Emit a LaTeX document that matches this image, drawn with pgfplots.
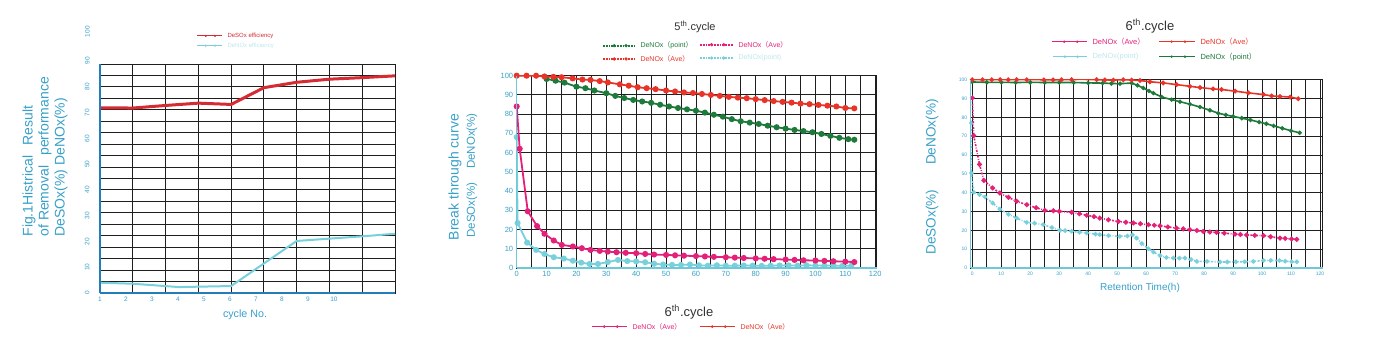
\documentclass[border=0pt]{standalone}
\usepackage{fontspec}
\setmainfont{Liberation Sans}
\newfontfamily\cjk{Noto Sans CJK SC}
\usepackage{pgfplots}
\pgfplotsset{compat=1.18}
\definecolor{tealtxt}{RGB}{56,160,200}
\definecolor{spineblue}{RGB}{35,125,185}
\definecolor{spinelt}{RGB}{110,200,215}
\definecolor{cred}{RGB}{232,52,40}
\definecolor{lred}{RGB}{212,44,50}
\definecolor{cgreen}{RGB}{30,122,58}
\definecolor{cmag}{RGB}{228,32,120}
\definecolor{ccyan}{RGB}{120,208,220}
\definecolor{faint}{RGB}{190,230,236}
\definecolor{gridc}{RGB}{30,30,30}
\definecolor{titc}{RGB}{50,50,50}
\newcommand\fs[1]{\fontsize{#1}{#1}\selectfont}
\newcommand\pl[1]{{\cjk （}#1{\cjk ）}}
\newcommand\legs[6]{%
  \draw[#4,#5] (#1,#3) -- (#2,#3);
  \fill[#4] ({#1+(#2-#1)*0.35},#3) circle (#6);
  \fill[#4] ({#1+(#2-#1)*0.72},#3) circle (#6);}
\pgfplotsset{
  base/.style={scale only axis, anchor=south west, clip mode=individual,
    /pgf/number format/assume math mode=true,
    major tick length=0pt, minor tick length=0pt,
    axis line style={gridc, line width=0.9pt},
    tick label style={text=tealtxt},
    major grid style={gridc, line width=0.9pt},
    minor grid style={gridc, line width=0.9pt},
  }}
\begin{document}
\begin{tikzpicture}[x=1pt,y=1pt]
\useasboundingbox (0,0) rectangle (1390,353);

% ---------------- left panel ----------------
\begin{axis}[base, at={(100pt,60pt)}, width=295pt, height=229pt,
  xmin=1, xmax=12.35, ymin=0, ymax=88.9,
  xtick={1,...,10}, ytick={0,10,...,80},
  minor xtick={2.261,3.522,4.783,6.044,7.305,8.566,9.827,11.088},
  minor ytick={4.445,8.89,13.335,17.78,22.225,26.67,31.115,35.56,40.005,44.45,48.895,53.34,57.785,62.23,66.675,71.12,75.565,80.01,84.455},
  xminorgrids, yminorgrids,
  minor grid style={gridc, line width=1pt},
  xticklabel style={font=\fs{6.5}},
  yticklabel style={font=\fs{6.5}, rotate=90, anchor=south},
  yticklabel shift=7pt,
  ]
\addplot[ccyan, line width=2pt] coordinates {(1,4.0) (2.261,3.6) (4.04,2.3) (6.044,2.7) (8.566,20.2) (9.827,21.1) (11.088,22.0) (12.35,23.0)};
\addplot[lred, line width=3pt] coordinates {(1,71.9) (2.261,71.8) (3.522,72.8) (4.783,73.7) (6.044,73.2) (7.305,79.7) (8.566,81.8) (9.827,83.0) (11.088,83.6) (12.35,84.3)};
\draw[spineblue, line width=2.5pt] (rel axis cs:0,0) -- (rel axis cs:0,1);
\draw[spineblue, line width=2.5pt] (rel axis cs:0,0) -- (rel axis cs:1,0);
\end{axis}
\node[rotate=90, text=tealtxt, font=\fs{6.5}] at (87.3,292.3) {90};
\node[rotate=90, text=tealtxt, font=\fs{6.5}] at (87.3,321.3) {100};
\node[rotate=90, anchor=north west, align=left, text=tealtxt, font=\fontsize{14}{16}\selectfont] at (19,113)
  {Fig.1Histrical\hspace{10pt}Result\\of Removal\hspace{10pt}performance\\DeSOx(\%) DeNOx(\%)};
\node[text=tealtxt, font=\fs{10.7}] at (245,38) {cycle No.};
\legs{197}{222}{317}{lred}{line width=1pt}{1.2}
\node[anchor=west, text=lred, font=\fs{6}] at (224,317) {DeSOx efficiency};
\legs{197}{222}{307.3}{ccyan}{line width=1pt}{1.2}
\node[anchor=west, text=faint, font=\fs{6}] at (224,307.3) {DeNOx efficiency};

% ---------------- middle panel ----------------
\begin{axis}[base, at={(516.7pt,85pt)}, width=360pt, height=192.3pt,
  xmin=0, xmax=120.5, ymin=0, ymax=100,
  xtick={0,10,...,120}, ytick={0,10,...,100}, minor xtick={5,15,...,115},
  xmajorgrids, xminorgrids, ymajorgrids,
  tick label style={font=\fs{7.5}},
  every axis plot/.append style={line width=1.8pt, mark=*, mark size=2.1pt},
  ]
\addplot[cgreen] coordinates {(10,98.3)(13,97.4)(16,96.4)(20,94.3)(23,93.5)(26,92.3)(30,90.9)(33,89.5)(36,88.4)(39,87.4)(42,86.6)(45,85.9)(48,84.9)(51,84)(54,83.2)(57,82.5)(60,81.8)(63,80.8)(66,79.7)(69,78.7)(72,77.4)(75,76.3)(78,75.6)(81,74.9)(84,74)(87,73.2)(90,72.5)(93,71.8)(96,71.2)(99,70.6)(102,69.7)(105,68.7)(108,67.7)(111,67)(113,66.7)};
\addplot[cred] coordinates {(0,100)(3.3,100)(6.5,100)(9.3,99.6)(12.3,99.4)(15,99.2)(18.7,98.6)(22,98)(24.7,97.8)(27.8,97.2)(30.5,96.5)(34.5,95.5)(37.5,94.8)(40.5,94)(43.5,93.5)(46.5,93)(50,92.3)(53,91.8)(56,91.3)(59,91)(62,90.5)(65,90)(68,89.5)(71,89)(74,88.6)(77,88.3)(80,87.8)(83,87.3)(86,86.8)(89,86.4)(92,86)(95,85.5)(98,85.2)(101,84.8)(104,84.4)(107,84)(110,83.2)(113,83)};
\addplot[ccyan] coordinates {(0,68)(0.3,23.4)(3.5,13.2)(6.5,9.4)(9.3,7.3)(12.4,5.6)(15.8,4.9)(18.8,3.8)(21.6,2.8)(24.4,2.1)(27.2,2.1)(30.5,3.1)(33.9,4.2)(37,3.6)(40,3.4)(43,3)(46,2.2)(49,1.8)(52,1.6)(55,1.6)(58,1.8)(61,1.4)(64,1.2)(67,1.4)(70,1.2)(73,1.2)(76,1.3)(79,1.2)(82,1.1)(85,1.2)(88,1.3)(91,1.4)(94,1.2)(97,1.4)(100,1.3)(103,1.2)(106,1.3)(109,1.1)(112,1.2)};
\addplot[cmag] coordinates {(0,84)(1,62)(3.7,29.5)(6.8,21.8)(9.3,17.8)(12.4,14.3)(15.1,12)(18.8,11.2)(21.8,10.3)(24.7,9.4)(27.8,8.9)(30.5,8.5)(33.4,8.2)(36.5,7.9)(40,7.7)(43,7.3)(46,7)(50,6.8)(53,6.6)(56,6.4)(60,6.2)(63,6)(66,5.8)(70,5.6)(73,5.4)(76,5.2)(80,5)(83,4.8)(86,4.6)(90,4.4)(93,4.2)(96,4)(100,3.9)(103,3.7)(106,3.5)(110,3.3)(113,3.1)};
\draw[spinelt, line width=1.2pt] (rel axis cs:0,0) -- (rel axis cs:0,1);
\draw[spinelt, line width=1.2pt] (rel axis cs:0,0) -- (rel axis cs:1,0);
\end{axis}
\node[text=titc, font=\fs{11}] at (695,326) {5\textsuperscript{th}.cycle};
\legs{603}{635}{307.3}{cgreen}{densely dotted, line width=1.8pt}{1.8}
\node[anchor=west, text=cgreen, font=\fs{7}] at (637,307.3) {DeNOx\pl{point}};
\legs{700}{733}{308.3}{cmag}{densely dotted, line width=1.8pt}{1.8}
\node[anchor=west, text=cmag, font=\fs{7}] at (735,308.3) {DeNOx\pl{Ave}};
\legs{603}{635}{294}{cred}{densely dotted, line width=1.8pt}{1.8}
\node[anchor=west, text=cred, font=\fs{7}] at (637,294) {DeNOx\pl{Ave}};
\legs{700}{733}{295}{ccyan}{densely dotted, line width=1.8pt}{1.8}
\node[anchor=west, text=faint, font=\fs{7}] at (735,295) {DeNOx(point)};
\node[rotate=90, text=tealtxt, font=\fs{14}] at (455,176) {Break through curve};
\node[rotate=90, text=tealtxt, font=\fs{11.5}] at (472,143) {DeSOx(\%)};
\node[rotate=90, text=tealtxt, font=\fs{11.5}] at (472,212) {DeNOx(\%)};
\node[text=titc, font=\fs{13}] at (689,41) {6\textsuperscript{th}.cycle};
\legs{592}{627}{26.3}{cmag}{line width=1.6pt}{1.5}
\node[anchor=west, text=cmag, font=\fs{7}] at (629,26.3) {DeNOx\pl{Ave}};
\legs{700}{735}{26.3}{cred}{line width=1.6pt}{1.5}
\node[anchor=west, text=cred, font=\fs{7}] at (737,26.3) {DeNOx\pl{Ave}};

% ---------------- right panel ----------------
\begin{axis}[base, at={(970.7pt,85pt)}, width=352pt, height=188.3pt,
  xmin=-0.55, xmax=120.95, ymin=0, ymax=100,
  xtick={0,10,...,120}, ytick={0,10,...,100}, minor xtick={5,15,...,115},
  xmajorgrids, xminorgrids, ymajorgrids,
  tick label style={font=\fs{5}},
  ]
\addplot[cgreen, line width=1.6pt, mark=*, mark size=1.3pt] coordinates {(0,98.8)(5,98.6)(10,98.6)(15,98.5)(20,98.6)(25,98.5)(30,98.5)(35,98.5)(40,98.3)(45,98.2)(48,98)(51,97.9)(55,98.2)(57,97)(59,95.6)(61,94)(62.5,92.9)(65.4,90.8)(68.8,89.4)(71.7,88.3)(75.1,87)(78.6,85.5)(82,83.8)(84.9,82.2)(87.5,81.3)(90,80.5)(93,79.6)(96,78.6)(99,77.5)(101.5,76.6)(104,75.5)(107,74.2)(110,72.9)(113,71.8)};
\addplot[cred, line width=1.6pt, mark=*, mark size=1.5pt] coordinates {(0,100)(3.5,100)(6.7,100)(9.6,100)(12.4,100)(15.3,100)(18.8,100)(22.1,100.1)(24.7,99.9)(27.9,99.9)(30.8,100)(34.3,100)(37.2,100.2)(40,100.1)(42.9,100)(45.8,99.9)(48.7,99.8)(52.1,100)(55,99.8)(57.9,99.6)(61.3,98.9)(65.9,98.3)(70.5,97.4)(75.1,96.5)(78.6,95.8)(83.1,95.1)(86,94.8)(90.7,93.9)(95.3,93)(100.5,92.1)(103.3,91.4)(106.2,91.1)(109.7,90.8)(112.5,89.9)};
\addplot[ccyan, line width=1.6pt, dash pattern=on 2pt off 1.5pt on 0.8pt off 1.5pt, mark=*, mark size=1.4pt, mark options={solid}] coordinates {(-0.3,77)(-0.3,50.4)(0.5,40.2)(2.5,39)(4.4,37.7)(7,34.5)(9.5,31.3)(12.5,28.5)(15.3,26.5)(18.8,24.2)(21.5,23.8)(24.5,23)(27.5,21.5)(30.3,20)(32,19.8)(34.3,19.5)(37,19)(39.5,18.6)(42.5,18)(44,17.7)(47,17.2)(50.9,16.8)(53.5,17)(55.3,17.6)(56.7,15.9)(58.5,13)(60.8,10.2)(62.5,8.5)(64.8,6.6)(67,5.6)(69.4,5.3)(71.5,5.2)(73.4,5.3)(75.5,4.5)(77.5,3.5)(81,3.5)(85.5,3.2)(88,3.2)(91,3.3)(94,3.3)(97,3.5)(100.5,4)(103,4)(106,4)(108,3.6)(110.2,3.3)(112,3.3)};
\addplot[cmag, line width=1.6pt, dash pattern=on 2pt off 1.5pt on 0.8pt off 1.5pt, mark=*, mark size=1.6pt, mark options={solid}] coordinates {(0,90.3)(0.5,70.3)(2.5,55)(4,46.5)(7,42.5)(9.5,39.8)(12.5,37.5)(15.3,35.4)(18.8,33.6)(22,32)(25,30.6)(28,30.4)(30,30.1)(34.3,29.6)(37,28.8)(39.5,28)(42,27.3)(44,26.5)(47,25.6)(50.4,24.7)(53,24.3)(55.6,23.9)(58,23.5)(60.8,23)(62.8,22.7)(64.8,22.4)(67.5,21.8)(70.5,21.2)(72.8,20.8)(75.1,20.3)(77.5,19.9)(79.7,19.4)(82,19.1)(84.3,18.9)(87,18.5)(90.7,18)(92.5,17.8)(94.7,17.5)(97.5,17.3)(100.5,17.2)(103,16.6)(106.2,15.9)(108,15.7)(110.2,15.4)(112,15.2)};
\draw[spinelt, line width=1.2pt] (rel axis cs:0,0) -- (rel axis cs:0,1);
\draw[spinelt, line width=1.2pt] (rel axis cs:0,0) -- (rel axis cs:1,0);
\end{axis}
\node[text=titc, font=\fs{13}] at (1150,327) {6\textsuperscript{th}.cycle};
\legs{1052}{1087}{311.3}{cmag}{line width=1.6pt}{1.4}
\node[anchor=west, text=cmag, font=\fs{7.5}] at (1089,311.3) {DeNOx\pl{Ave}};
\legs{1159}{1195}{311.3}{cred}{line width=1.6pt}{1.4}
\node[anchor=west, text=cred, font=\fs{7.5}] at (1197,311.3) {DeNOx\pl{Ave}};
\legs{1053}{1087}{296.3}{ccyan}{line width=1.6pt}{1.4}
\node[anchor=west, text=faint, font=\fs{7.5}] at (1089,296.3) {DeNOx(point)};
\legs{1159}{1195}{296.3}{cgreen}{line width=1.6pt}{1.4}
\node[anchor=west, text=cgreen, font=\fs{7.5}] at (1197,296.3) {DeNOx\pl{point}};
\node[rotate=90, text=tealtxt, font=\fs{13.6}] at (932,221) {DeNOx(\%)};
\node[rotate=90, text=tealtxt, font=\fs{13.6}] at (932,131) {DeSOx(\%)};
\node[text=tealtxt, font=\fs{10}] at (1140,65) {Retention Time(h)};
\end{tikzpicture}
\end{document}
